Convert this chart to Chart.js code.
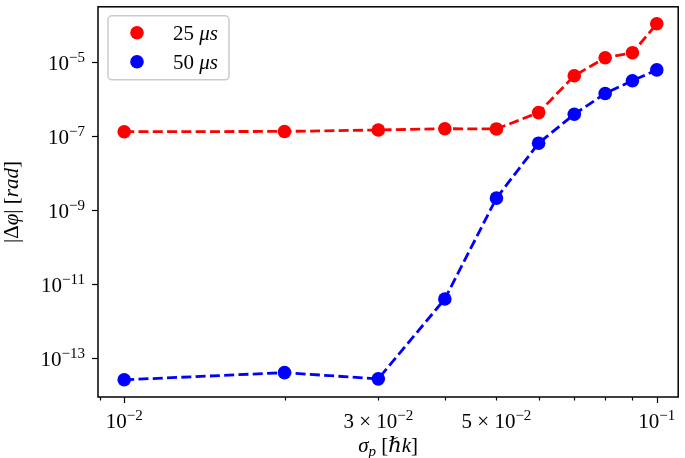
<!DOCTYPE html>
<html>
<head>
<meta charset="utf-8">
<script src="https://cdn.jsdelivr.net/npm/chart.js@4.4.0/dist/chart.umd.min.js"></script>
<style>
    html, body { margin: 0; padding: 0; background: #fff; }
    #wrap { width: 685px; height: 458px; }
</style>
</head>
<body>
<div id="wrap"><canvas id="c" width="685" height="458"></canvas></div>
<script>
// ── data ──
const SIGMA_P  = [0.01, 0.02, 0.03, 0.04, 0.05, 0.06, 0.07, 0.08, 0.09, 0.1];
const PHASE_25 = [1.28e-7, 1.3e-7, 1.42e-7, 1.54e-7, 1.52e-7, 4.2e-7, 4.16e-6, 1.28e-5, 1.74e-5, 1.06e-4];
const PHASE_50 = [2.5e-14, 3.9e-14, 2.65e-14, 3.84e-12, 2.05e-9, 6.26e-8, 3.8e-7, 1.38e-6, 3.06e-6, 6.0e-6];

const SERIES_LABELS = ['25 ', '50 '];
const SERIES_COLORS = ['#ff0000', '#0000ff'];

// axis ranges
const X_MIN = 0.00893, X_MAX = 0.1097;
const Y_MIN = 8.57e-15, Y_MAX = 3.05e-4;

// tick values and labels
const X_MAJOR_TICKS = [0.01, 0.1];
const X_MINOR_TICKS = [0.009, 0.02, 0.03, 0.04, 0.05, 0.06, 0.07, 0.08, 0.09];
const X_LABEL_VALUES = [0.01, 0.03, 0.05, 0.1];
const X_LABEL_MANT   = ['', '3 × ', '5 × ', ''];
const X_LABEL_EXP    = ['−2', '−2', '−2', '−1'];
const Y_TICKS     = [1e-5, 1e-7, 1e-9, 1e-11, 1e-13];
const Y_LABEL_EXP = ['−5', '−7', '−9', '−11', '−13'];

const FONT = '"Liberation Serif", "DejaVu Serif", serif';
const BASE = 21, SUP = 15;

// ── 混合字型文字 ──
function drawRich(ctx, segs, x, y, align) {
    let total = 0;
    segs.forEach(s => {
        ctx.font = `${s.italic ? 'italic ' : ''}${s.size || BASE}px ${FONT}`;
        s.w = ctx.measureText(s.t).width;
        total += s.w;
    });
    let cx = align === 'right' ? x - total : align === 'center' ? x - total / 2 : x;
    segs.forEach(s => {
        ctx.font = `${s.italic ? 'italic ' : ''}${s.size || BASE}px ${FONT}`;
        ctx.fillText(s.t, cx, y + (s.dy || 0));
        cx += s.w;
    });
}

function powLabel(mant, exp) {
    const segs = [];
    if (mant) segs.push({ t: mant });
    segs.push({ t: '10' });
    segs.push({ t: exp, size: SUP, dy: -8 });
    return segs;
}

// ── 坐標軸、刻度、圖例 ──
const axesPlugin = {
    id: 'axesPlugin',
    afterDraw(chart) {
        const ctx = chart.ctx;
        const area = chart.chartArea;
        const xs = chart.scales.x, ys = chart.scales.y;
        ctx.save();
        ctx.fillStyle = '#000';
        ctx.strokeStyle = '#000';
        ctx.textAlign = 'left';
        ctx.textBaseline = 'alphabetic';

        // frame
        ctx.lineWidth = 1.5;
        ctx.strokeRect(area.left, area.top, area.right - area.left, area.bottom - area.top);

        // x ticks
        ctx.lineWidth = 1.2;
        const tick = (v, len) => {
            const px = Math.round(xs.getPixelForValue(v)) + 0.5;
            ctx.beginPath();
            ctx.moveTo(px, area.bottom);
            ctx.lineTo(px, area.bottom + len);
            ctx.stroke();
        };
        X_MAJOR_TICKS.forEach(v => tick(v, 6));
        X_MINOR_TICKS.forEach(v => tick(v, 3.5));
        X_LABEL_VALUES.forEach((v, i) => {
            drawRich(ctx, powLabel(X_LABEL_MANT[i], X_LABEL_EXP[i]), xs.getPixelForValue(v), area.bottom + 31, 'center');
        });

        // y ticks
        Y_TICKS.forEach((v, i) => {
            const py = Math.round(ys.getPixelForValue(v)) + 0.5;
            ctx.beginPath();
            ctx.moveTo(area.left, py);
            ctx.lineTo(area.left - 6, py);
            ctx.stroke();
            drawRich(ctx, powLabel('', Y_LABEL_EXP[i]), area.left - 13, py + 7, 'right');
        });

        // axis titles
        drawRich(ctx, [
            { t: 'σ', italic: true },
            { t: 'p', italic: true, size: SUP, dy: 4 },
            { t: ' [' }, { t: 'ℏ', italic: true }, { t: 'k', italic: true }, { t: ']' }
        ], (area.left + area.right) / 2, 452, 'center');

        ctx.save();
        ctx.translate(18, 202);
        ctx.rotate(-Math.PI / 2);
        drawRich(ctx, [
            { t: '|Δ' }, { t: 'φ', italic: true }, { t: '| [' },
            { t: 'rad', italic: true }, { t: ']' }
        ], 0, 0, 'center');
        ctx.restore();

        // legend
        const lx = area.left + 10, ly = area.top + 9;
        ctx.beginPath();
        ctx.roundRect(lx, ly, 121, 64, 4);
        ctx.fillStyle = 'rgba(255,255,255,0.8)';
        ctx.fill();
        ctx.strokeStyle = '#cccccc';
        ctx.lineWidth = 1.5;
        ctx.stroke();
        SERIES_LABELS.forEach((lab, i) => {
            const cy = ly + 17 + i * 29;
            ctx.beginPath();
            ctx.arc(lx + 29, cy, 6.8, 0, Math.PI * 2);
            ctx.fillStyle = SERIES_COLORS[i];
            ctx.fill();
            ctx.fillStyle = '#000';
            drawRich(ctx, [{ t: lab }, { t: 'μs', italic: true }], lx + 65, cy + 7, 'left');
        });
        ctx.restore();
    }
};

const makeSet = (vals, i) => ({
    data: SIGMA_P.map((x, k) => ({ x: x, y: vals[k] })),
    showLine: true,
    borderColor: SERIES_COLORS[i],
    backgroundColor: SERIES_COLORS[i],
    borderWidth: 2.8,
    borderDash: [10, 4.3],
    pointRadius: 6.8,
    pointBorderWidth: 0,
    pointHoverRadius: 6.8
});

new Chart(document.getElementById('c').getContext('2d'), {
    type: 'scatter',
    data: { datasets: [makeSet(PHASE_25, 0), makeSet(PHASE_50, 1)] },
    options: {
        responsive: false,
        animation: false,
        devicePixelRatio: 1,
        layout: { padding: { left: 98, right: 6, top: 1, bottom: 61 } },
        plugins: { legend: { display: false }, tooltip: { enabled: false } },
        scales: {
            x: { type: 'logarithmic', min: X_MIN, max: X_MAX, display: false },
            y: { type: 'logarithmic', min: Y_MIN, max: Y_MAX, display: false }
        }
    },
    plugins: [axesPlugin]
});
</script>
</body>
</html>
